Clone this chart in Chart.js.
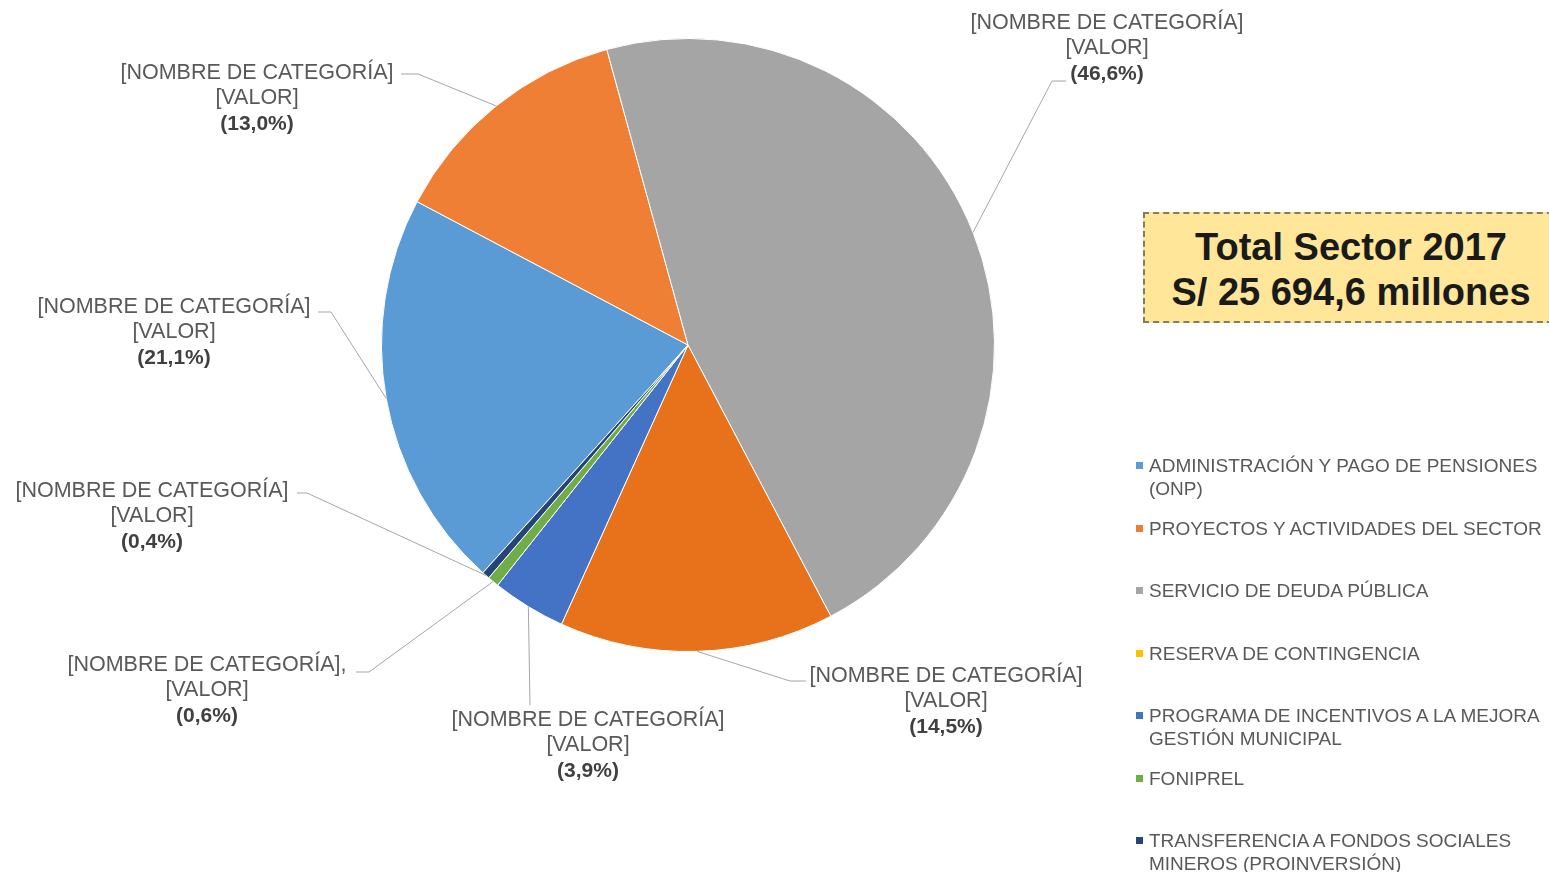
<!DOCTYPE html>
<html>
<head>
<meta charset="utf-8">
<script src="https://cdn.jsdelivr.net/npm/chart.js@4.4.0/dist/chart.umd.min.js"></script>
<style>
  html, body { margin: 0; padding: 0; background: #fff; }
  #wrap { position: relative; width: 1549px; height: 872px; overflow: hidden; font-family: "Liberation Sans", Arial, sans-serif; }
  #chart { position: absolute; left: 0; top: 0; }
  #totalBox { position: absolute; left: 1143px; top: 212px; width: 420px; height: 111px; background: #FFE699; border: 2px dashed #7f7f60; box-sizing: border-box; }
  #totalBox div { position: absolute; left: 0; width: 412px; text-align: center; font-weight: bold; font-size: 38px; line-height: 44px; color: #1a1a1a; }
  #legend { position: absolute; left: 1136px; top: 454px; width: 413px; }
  .li { position: absolute; left: 0; font-size: 19px; line-height: 23px; color: #595959; padding-left: 13px; white-space: nowrap; }
  .li i { position: absolute; left: 0; top: 8px; width: 7px; height: 7px; }
</style>
</head>
<body>
<div id="wrap">
  <canvas id="chart" width="1549" height="872"></canvas>
  <div id="totalBox"><div style="top:11px">Total Sector 2017</div><div style="top:56px">S/ 25 694,6 millones</div></div>
  <div id="legend"></div>
</div>
<script>
// ---- data ----
const categories = [
  "ADMINISTRACIÓN Y PAGO DE PENSIONES (ONP)",
  "PROYECTOS Y ACTIVIDADES DEL SECTOR",
  "SERVICIO DE DEUDA PÚBLICA",
  "RESERVA DE CONTINGENCIA",
  "PROGRAMA DE INCENTIVOS A LA MEJORA GESTIÓN MUNICIPAL",
  "FONIPREL",
  "TRANSFERENCIA A FONDOS SOCIALES MINEROS (PROINVERSIÓN)"
];
const legendLines = [
  ["ADMINISTRACIÓN Y PAGO DE PENSIONES", "(ONP)"],
  ["PROYECTOS Y ACTIVIDADES DEL SECTOR"],
  ["SERVICIO DE DEUDA PÚBLICA"],
  ["RESERVA DE CONTINGENCIA"],
  ["PROGRAMA DE INCENTIVOS A LA MEJORA", "GESTIÓN MUNICIPAL"],
  ["FONIPREL"],
  ["TRANSFERENCIA A FONDOS SOCIALES", "MINEROS (PROINVERSIÓN)"]
];
const percentages = [21.1, 13.0, 46.6, 14.5, 3.9, 0.6, 0.4];
const nameLabels = ["[NOMBRE DE CATEGORÍA]", "[NOMBRE DE CATEGORÍA]", "[NOMBRE DE CATEGORÍA]", "[NOMBRE DE CATEGORÍA]", "[NOMBRE DE CATEGORÍA]", "[NOMBRE DE CATEGORÍA],", "[NOMBRE DE CATEGORÍA]"];
const valueLabel = "[VALOR]";

// ---- styles ----
const sliceColors = ["#5B9BD5", "#EE7F35", "#A5A5A5", "#E8711C", "#4472C4", "#70AD47", "#264478"];
const legendColors = ["#5B9BD5", "#ED7D31", "#A5A5A5", "#FFC000", "#4472C4", "#70AD47", "#264478"];
// label placement: cx = text centre x, ty = first line centre y, ex/ey = leader elbow, hx = end of short horizontal
const labelPlace = [
  { cx: 174, ty: 307, ex: 331, ey: 312, hx: 318 },
  { cx: 257, ty: 73,  ex: 418, ey: 74,  hx: 401 },
  { cx: 1107, ty: 23, ex: 1052, ey: 81, hx: 1066 },
  { cx: 946, ty: 676, ex: 790, ey: 681, hx: 806 },
  { cx: 588, ty: 720, ex: 530, ey: 705, hx: 530 },
  { cx: 207, ty: 665, ex: 369, ey: 672, hx: 356 },
  { cx: 152, ty: 491, ex: 307, ey: 493, hx: 297 }
];

const fmtPct = v => "(" + v.toFixed(1).replace(".", ",") + "%)";

const callouts = {
  id: "callouts",
  afterDatasetsDraw(chart) {
    const ctx = chart.ctx;
    const meta = chart.getDatasetMeta(0);
    ctx.save();
    meta.data.forEach((arc, i) => {
      const p = labelPlace[i];
      const mid = (arc.startAngle + arc.endAngle) / 2;
      const r = arc.outerRadius;
      const ax = arc.x + Math.cos(mid) * r;
      const ay = arc.y + Math.sin(mid) * r;
      ctx.strokeStyle = "#A6A6A6";
      ctx.lineWidth = 1;
      ctx.beginPath();
      ctx.moveTo(ax, ay);
      ctx.lineTo(p.ex, p.ey);
      ctx.lineTo(p.hx, p.ey);
      ctx.stroke();
      ctx.fillStyle = "#595959";
      ctx.textAlign = "center";
      ctx.textBaseline = "middle";
      ctx.font = '21.5px "Liberation Sans", Arial, sans-serif';
      ctx.fillText(nameLabels[i], p.cx, p.ty);
      ctx.fillText(valueLabel, p.cx, p.ty + 25);
      ctx.font = 'bold 21px "Liberation Sans", Arial, sans-serif';
      ctx.fillStyle = "#404040";
      ctx.fillText(fmtPct(percentages[i]), p.cx, p.ty + 51);
    });
    ctx.restore();
  }
};

new Chart(document.getElementById("chart"), {
  type: "pie",
  data: {
    labels: categories,
    datasets: [{
      data: percentages,
      backgroundColor: sliceColors,
      borderColor: "#ffffff",
      borderWidth: 1
    }]
  },
  options: {
    responsive: false,
    animation: false,
    rotation: 222,
    layout: { padding: { left: 381, right: 554, top: 38, bottom: 220 } },
    plugins: { legend: { display: false }, tooltip: { enabled: false } }
  },
  plugins: [callouts]
});

// legend
const legendTops = [0, 63, 125, 188, 250, 313, 375];
const lg = document.getElementById("legend");
legendLines.forEach((lines, i) => {
  const d = document.createElement("div");
  d.className = "li";
  d.style.top = legendTops[i] + "px";
  d.innerHTML = '<i style="background:' + legendColors[i] + '"></i>' + lines.join("<br>");
  lg.appendChild(d);
});
</script>
</body>
</html>
